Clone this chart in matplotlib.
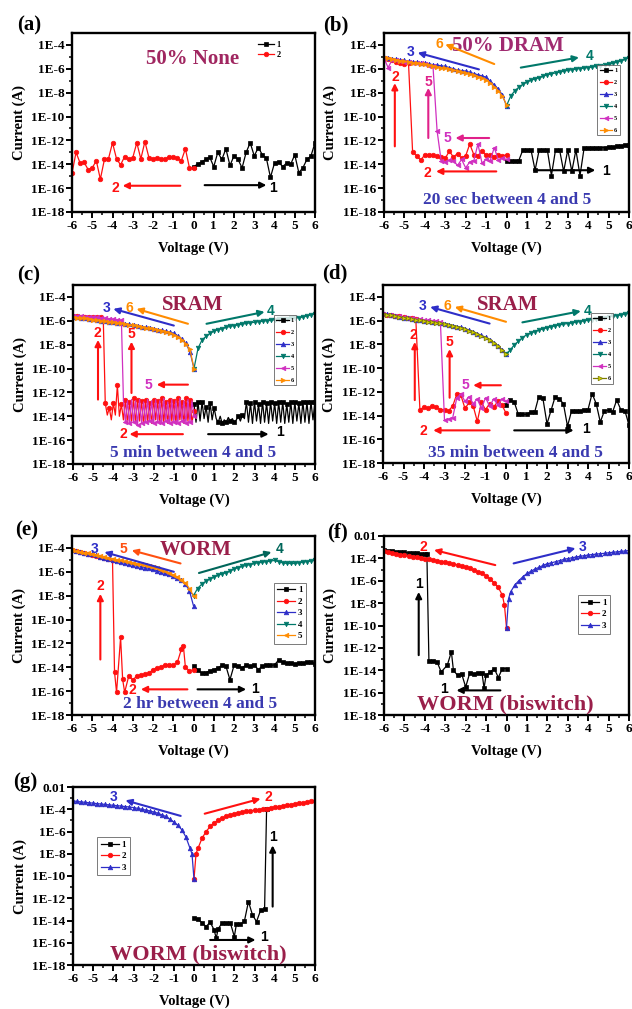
import numpy as np
import matplotlib
matplotlib.use("Agg")
import matplotlib.pyplot as plt
from matplotlib.ticker import FixedLocator, NullFormatter

plt.rcParams['font.family'] = ['Liberation Serif', 'DejaVu Serif']
plt.rcParams['font.weight'] = 'bold'
plt.rcParams['axes.labelweight'] = 'bold'

# colours of the sweeps
C1, C2, C3, C4, C5, C6 = '#000000', '#FF1010', '#2E2EC8', '#00786A', '#D030C0', '#FF8C00'
OLIVE = '#7A7A00'
TITLE = '#9A1F4A'
NOTE_BLUE = '#3A3AB0'
PINK = '#E0208A'

# voltage sweeps (V)
V_pos = np.round(np.linspace(0, 6, 31), 2)
V_neg = np.round(np.linspace(0, -6, 31), 2)
V_pos_f = np.round(np.linspace(0, 6, 61), 2)
V_neg_f = np.round(np.linspace(0, -6, 61), 2)

# ---- (a) 50% None, log10(I)
a1 = [-14.2, -14.0, -13.8, -13.6, -13.4, -14.2, -13.0, -13.6, -12.7, -14.1, -13.3, -13.6, -14.3, -13.0, -12.2, -13.3,
      -12.6, -13.2, -13.5, -15.1, -13.9, -13.8, -14.2, -13.9, -14.0, -13.2, -14.7, -14.3, -13.6, -13.3, -12.2]
a2 = [-14.3, -14.3, -12.7, -13.7, -13.45, -13.4, -13.4, -13.55, -13.55, -13.45, -13.55, -13.45, -12.1, -13.55, -12.2,
      -13.45, -13.6, -13.35, -14.05, -13.55, -12.2, -13.55, -13.6, -15.25, -13.7, -14.3, -14.45, -13.85, -13.9, -13.0,
      -14.75]

# ---- (b) 50% DRAM
b1 = [-13.7, -13.7, -13.7, -13.7, -12.8, -12.8, -12.8, -14.5, -12.8, -12.8, -12.8, -14.95, -12.8, -12.8, -14.6, -12.8,
      -14.6, -12.8, -14.95, -12.65, -12.65, -12.65, -12.65, -12.6, -12.6, -12.55, -12.55, -12.5, -12.45, -12.4, -12.4]
b2 = [-13.2, -13.3, -13.2, -13.35, -13.2, -13.25, -12.9, -13.3, -13.2, -12.3, -13.3, -13.5, -13.1, -13.4, -12.9, -13.5,
      -13.4, -13.3, -13.25, -13.2, -13.2, -13.65, -13.3, -12.95, -5.5, -5.6, -5.5, -5.4, -5.3, -5.2, -5.15]
b3 = [-9.1, -8.2, -7.7, -7.35, -7.05, -6.7, -6.6, -6.5, -6.4, -6.3, -6.2, -6.15, -6.1, -6.0, -5.9, -5.8, -5.75, -5.7,
      -5.65, -5.6, -5.5, -5.48, -5.45, -5.42, -5.38, -5.3, -5.25, -5.2, -5.15, -5.1, -5.05]
b4 = [-9.1, -8.3, -7.85, -7.55, -7.3, -7.1, -6.95, -6.85, -6.75, -6.62, -6.5, -6.42, -6.35, -6.28, -6.2, -6.13, -6.08,
      -6.03, -5.98, -5.94, -5.9, -5.85, -5.8, -5.75, -5.7, -5.63, -5.55, -5.45, -5.35, -5.2, -5.07]
b5 = [-13.6, -13.5, -13.65, -12.6, -13.7, -13.6, -13.9, -12.3, -13.7, -13.8, -14.3, -13.6, -14.1, -13.7, -13.65, -13.8,
      -13.7, -11.2, -5.8, -5.75, -5.6, -5.55, -5.5, -5.5, -5.45, -5.4, -5.35, -5.3, -5.25, -5.9, -5.1]
b6 = [-9.0, -8.3, -7.85, -7.5, -7.2, -6.9, -6.75, -6.65, -6.55, -6.45, -6.35, -6.3, -6.2, -6.1, -6.0, -5.95, -5.9,
      -5.85, -5.78, -5.7, -5.62, -5.58, -5.52, -5.48, -5.42, -5.38, -5.32, -5.25, -5.2, -5.12, -5.05]

# ---- (c) SRAM, 5 min
c1 = [-13.0, -14.5, -12.8, -14.4, -12.8, -14.2, -13.2, -14.5, -12.9, -14.3,
      -13.3, -14.2, -14.5, -14.0, -14.6, -14.3, -14.5, -14.1, -14.4, -14.2,
      -14.5, -14.3, -14.0, -14.4, -13.9, -14.2, -12.8, -14.5, -12.9, -14.6,
      -12.8, -14.4, -13.0, -14.6, -12.8, -14.5, -12.9, -14.6, -12.8, -14.4,
      -12.9, -14.6, -12.8, -14.5, -12.8, -14.6, -13.0, -14.5, -12.8, -14.6,
      -12.8, -14.4, -12.9, -14.6, -12.8, -14.5, -12.8, -14.6, -12.8, -14.3, -12.8]
c2 = [-13.6, -14.5, -12.6, -14.4, -12.5, -14.6, -12.8, -14.3, -12.5, -14.6,
      -12.7, -14.4, -12.6, -14.6, -12.8, -14.5, -12.5, -14.6, -12.7, -14.3,
      -12.6, -14.6, -12.9, -14.5, -12.6, -14.7, -12.7, -14.4, -12.6, -14.6,
      -12.5, -14.5, -12.8, -14.6, -12.6, -14.3, -13.0, -14.0, -11.4, -13.9,
      -12.9, -14.3, -13.3, -13.9, -12.9, -5.75, -5.72, -5.72, -5.7, -5.7,
      -5.68, -5.68, -5.67, -5.66, -5.65, -5.65, -5.64, -5.63, -5.62, -5.61, -5.6]
c3 = [-10.0, -8.6, -7.9, -7.5, -7.25, -7.05, -6.95, -6.88, -6.8, -6.74, -6.68, -6.62, -6.56, -6.5, -6.42, -6.35, -6.3,
      -6.25, -6.2, -6.16, -6.12, -6.08, -6.03, -5.98, -5.92, -5.86, -5.82, -5.78, -5.75, -5.72, -5.7]
c4 = [-10.0, -8.3, -7.6, -7.3, -7.05, -6.85, -6.75, -6.65, -6.55, -6.47, -6.4, -6.34, -6.28, -6.22, -6.17, -6.12, -6.08,
      -6.04, -6.0, -5.96, -5.92, -5.89, -5.86, -5.83, -5.8, -5.78, -5.74, -5.68, -5.6, -5.5, -5.42]
c5 = [-14.0, -12.7, -14.5, -12.6, -14.6, -12.7, -14.4, -12.5, -14.6, -12.7,
      -14.5, -12.6, -14.6, -12.8, -14.4, -12.5, -14.6, -12.7, -14.5, -12.6,
      -14.6, -12.7, -14.4, -12.6, -14.5, -12.8, -14.6, -12.6, -14.7, -12.7,
      -14.5, -12.6, -14.6, -12.7, -14.5, -12.6, -5.95, -5.92, -5.9, -5.88,
      -5.86, -5.84, -5.82, -5.8, -5.78, -5.76, -5.74, -5.72, -5.7, -5.69,
      -5.68, -5.67, -5.66, -5.65, -5.64, -5.63, -5.62, -5.61, -5.6, -5.6, -5.6]
c6 = [-10.0, -8.4, -7.95, -7.6, -7.35, -7.15, -7.0, -6.9, -6.82, -6.75, -6.7, -6.64, -6.58, -6.52, -6.45, -6.38, -6.32,
      -6.27, -6.22, -6.18, -6.14, -6.1, -6.05, -6.0, -5.95, -5.9, -5.85, -5.8, -5.76, -5.73, -5.7]

# ---- (d) SRAM, 35 min
d1 = [-13.1, -12.7, -12.85, -13.9, -13.9, -13.9, -13.7, -13.7, -12.4, -12.55, -14.7, -13.55, -12.4, -12.6, -13.0,
      -14.9, -13.6, -13.6, -13.6, -13.55, -13.5, -12.15, -13.0, -14.55, -13.6, -13.55, -13.7, -12.7, -13.5, -13.6, -14.8]
d2 = [-13.8, -13.1, -12.8, -13.3, -13.0, -13.5, -12.9, -14.5, -13.2, -12.9, -13.4, -12.3, -12.2, -13.2, -13.6, -13.5,
      -13.5, -13.3, -13.2, -13.4, -13.3, -13.5, -5.85, -5.8, -5.75, -5.7, -5.65, -5.6, -5.55, -5.5, -5.45]
d3 = [-8.8, -8.45, -8.1, -7.85, -7.6, -7.4, -7.25, -7.1, -6.95, -6.8, -6.67, -6.58, -6.5, -6.42, -6.33, -6.25, -6.2,
      -6.15, -6.1, -6.06, -6.02, -5.97, -5.92, -5.86, -5.8, -5.74, -5.68, -5.62, -5.55, -5.48, -5.4]
d4 = [-8.8, -8.5, -8.05, -7.75, -7.45, -7.2, -7.05, -6.92, -6.8, -6.7, -6.6, -6.52, -6.44, -6.37, -6.3, -6.25, -6.2,
      -6.14, -6.08, -6.02, -5.97, -5.92, -5.86, -5.8, -5.75, -5.69, -5.64, -5.58, -5.52, -5.46, -5.4]
d5 = [-12.8, -12.6, -13.1, -12.6, -13.2, -12.5, -13.4, -12.6, -13.0, -12.4, -12.8, -12.2, -12.5, -14.2, -14.3, -14.4,
      -6.1, -6.05, -6.0, -5.98, -5.95, -5.9, -5.85, -5.8, -5.75, -5.7, -5.65, -5.6, -5.55, -5.5, -5.45]
d6 = [-8.85, -8.5, -8.15, -7.9, -7.65, -7.45, -7.3, -7.15, -7.0, -6.85, -6.72, -6.62, -6.54, -6.46, -6.38, -6.3, -6.24,
      -6.18, -6.13, -6.08, -6.04, -5.99, -5.94, -5.88, -5.82, -5.76, -5.7, -5.64, -5.57, -5.5, -5.42]

# ---- (e) WORM, 2 hr
e1 = [-13.9, -14.2, -14.5, -14.45, -14.3, -14.2, -14.05, -13.85, -13.9, -15.05, -13.85, -13.9, -14.05, -13.8, -13.9,
      -13.8, -14.2, -13.9, -13.8, -13.85, -13.8, -13.4, -13.6, -13.65, -13.65, -13.7, -13.65, -13.65, -13.55, -13.6, -13.7]
V_e2 = [0, -0.2, -0.4, -0.5, -0.6, -0.8, -1.0, -1.2, -1.4, -1.6, -1.8, -2.0, -2.2, -2.4, -2.6, -2.8, -3.0, -3.2, -3.4,
        -3.5, -3.6, -3.8, -3.9, -4.0, -4.2, -4.4, -4.6, -4.8, -5.0, -5.2, -5.4, -5.6, -5.8, -6.0]
e2 = [-14.2, -14.3, -14.0, -12.2, -12.5, -13.6, -13.8, -13.8, -13.8, -14.0, -14.05, -14.2, -14.5, -14.6, -14.65, -14.75,
      -15.05, -14.75, -16.1, -15.0, -11.5, -16.1, -14.4, -5.0, -4.95, -4.85, -4.75, -4.7, -4.6, -4.52, -4.45, -4.35,
      -4.28, -4.2]
e3 = [-8.85, -7.6, -7.0, -6.7, -6.5, -6.35, -6.22, -6.1, -6.0, -5.9, -5.8, -5.72, -5.64, -5.56, -5.48, -5.4, -5.32,
      -5.24, -5.16, -5.08, -5.0, -4.9, -4.82, -4.72, -4.63, -4.55, -4.48, -4.42, -4.35, -4.28, -4.2]
e4 = [-8.0, -7.4, -7.05, -6.8, -6.6, -6.45, -6.3, -6.18, -6.08, -5.95, -5.75, -5.65, -5.55, -5.47, -5.4, -5.3, -5.25,
      -5.2, -5.15, -5.1, -5.05, -5.15, -5.25, -5.3, -5.3, -5.3, -5.25, -5.2, -5.15, -5.1, -5.05]
e5 = [-8.0, -7.4, -6.95, -6.65, -6.42, -6.25, -6.1, -5.97, -5.85, -5.72, -5.6, -5.53, -5.46, -5.38, -5.32, -5.25, -5.18,
      -5.12, -5.05, -4.98, -4.9, -4.82, -4.74, -4.67, -4.6, -4.5, -4.45, -4.4, -4.33, -4.27, -4.2]

# ---- (f) WORM biswitch, negative set
V_f1 = [0, -0.2, -0.4, -0.6, -0.8, -1.0, -1.1, -1.2, -1.4, -1.6, -1.8, -2.0, -2.2, -2.4, -2.6, -2.7, -2.9, -3.2, -3.4,
        -3.6, -3.8, -3.9, -4.0, -4.2, -4.4, -4.6, -4.8, -5.0, -5.2, -5.4, -5.6, -5.8, -6.0]
f1 = [-13.85, -13.85, -14.65, -13.85, -14.15, -14.45, -15.6, -14.25, -14.25, -14.3, -14.25, -15.5, -14.3, -14.45, -14.0,
      -12.35, -13.55, -14.15, -13.25, -13.15, -13.15, -3.6, -3.6, -3.58, -3.55, -3.52, -3.5, -3.47, -3.44, -3.4, -3.36,
      -3.3, -3.25]
V_f2 = [0, -0.1, -0.2, -0.4, -0.6, -0.8, -1.0, -1.2, -1.4, -1.6, -1.8, -2.0, -2.2, -2.4, -2.6, -2.8, -3.0, -3.2, -3.4,
        -3.6, -3.8, -4.0, -4.2, -4.4, -4.6, -4.8, -5.0, -5.2, -5.4, -5.6, -5.8, -6.0]
f2 = [-10.2, -8.2, -7.3, -6.6, -6.2, -5.85, -5.55, -5.35, -5.2, -5.05, -4.9, -4.78, -4.68, -4.58, -4.5, -4.42, -4.35,
      -4.28, -4.22, -4.16, -4.1, -4.04, -3.98, -3.92, -3.86, -3.8, -3.74, -3.66, -3.58, -3.5, -3.42, -3.35]
V_f3 = [0, 0.1, 0.2, 0.4, 0.6, 0.8, 1.0, 1.2, 1.4, 1.6, 1.8, 2.0, 2.2, 2.4, 2.6, 2.8, 3.0, 3.2, 3.4, 3.6, 3.8, 4.0,
        4.2, 4.4, 4.6, 4.8, 5.0, 5.2, 5.4, 5.6, 5.8, 6.0]
f3 = [-10.2, -7.6, -7.0, -6.4, -6.0, -5.65, -5.35, -5.15, -4.95, -4.8, -4.62, -4.48, -4.4, -4.3, -4.2, -4.1, -4.02,
      -3.95, -3.88, -3.82, -3.76, -3.7, -3.66, -3.62, -3.58, -3.55, -3.5, -3.46, -3.42, -3.38, -3.34, -3.3]

# ---- (g) WORM biswitch, positive set
V_g1 = [0, 0.2, 0.4, 0.6, 0.8, 1.0, 1.1, 1.2, 1.4, 1.6, 1.8, 2.0, 2.1, 2.3, 2.5, 2.7, 2.9, 3.1, 3.3, 3.5, 3.6]
g1 = [-13.8, -13.9, -14.2, -14.55, -14.15, -14.85, -15.6, -14.75, -14.2, -14.2, -14.2, -15.45, -14.35, -14.35, -14.05,
      -12.3, -13.5, -14.1, -13.1, -13.0, -3.95]
g2 = [-10.3, -8.0, -7.5, -6.6, -6.0, -5.55, -5.2, -5.0, -4.8, -4.65, -4.5, -4.4, -4.33, -4.26, -4.2, -4.14, -4.08,
      -4.03, -3.98, -3.95, -3.88, -3.82, -3.76, -3.7, -3.64, -3.58, -3.52, -3.46, -3.41, -3.36, -3.3, -3.25]
V_g3 = [0, -0.1, -0.2, -0.4, -0.6, -0.8, -1.0, -1.2, -1.4, -1.6, -1.8, -2.0, -2.2, -2.4, -2.6, -2.8, -3.0, -3.2, -3.4,
        -3.6, -3.8, -4.0, -4.2, -4.4, -4.6, -4.8, -5.0, -5.2, -5.4, -5.6, -5.8, -6.0]
g3 = [-10.3, -8.0, -7.5, -6.5, -5.85, -5.45, -5.15, -4.9, -4.65, -4.5, -4.35, -4.25, -4.15, -4.07, -4.0, -3.92, -3.85,
      -3.8, -3.76, -3.72, -3.68, -3.65, -3.61, -3.57, -3.53, -3.5, -3.45, -3.42, -3.38, -3.34, -3.3, -3.25]

SANS = ['Liberation Sans', 'DejaVu Sans']


def setup(ax, top_exp):
    ax.set_yscale('log')
    ax.set_xlim(-6, 6)
    ax.set_ylim(1e-18, 10.0 ** top_exp)
    ax.set_xticks(range(-6, 7))
    ax.set_xticklabels([str(v) for v in range(-6, 7)])
    ax.xaxis.set_minor_locator(FixedLocator(np.arange(-5.5, 6, 1)))
    majors = list(range(-18, top_exp + 1, 2)) if top_exp % 2 == 0 else list(range(-18, top_exp, 2))
    ax.yaxis.set_major_locator(FixedLocator([10.0 ** e for e in majors]))
    ax.set_yticklabels(['0.01' if e == -2 else f'1E{e}' for e in majors])
    ax.yaxis.set_minor_locator(FixedLocator([10.0 ** e for e in range(-17, top_exp, 2)]))
    ax.yaxis.set_minor_formatter(NullFormatter())
    ax.tick_params(which='major', direction='out', length=4, width=1.4, labelsize=9.5, pad=1.5)
    ax.tick_params(which='minor', direction='out', length=2.2, width=1.1)
    for sp in ax.spines.values():
        sp.set_linewidth(1.7)
    ax.set_xlabel('Voltage (V)', fontsize=10.5)
    ax.set_ylabel('Current (A)', fontsize=10.5)
    ax.xaxis.set_label_coords(0.5, -0.165)
    ax.yaxis.set_label_coords(-0.19, 0.5)


def curve(ax, v, logi, color, marker, label, ms=3.3, every=1, mfc=None):
    ax.plot(v, 10.0 ** np.array(logi), color=color, marker=marker, ms=ms, lw=0.9, label=label,
            markevery=every, mfc=mfc if mfc else color, mec=color, mew=0.5)


def arrow(ax, x0, e0, x1, e1, color, lw=1.5):
    ax.annotate('', xy=(x1, 10.0 ** e1), xytext=(x0, 10.0 ** e0),
                arrowprops=dict(arrowstyle='-|>', color=color, lw=lw, mutation_scale=9,
                                shrinkA=0, shrinkB=0))


def num(ax, x, e, s, color, size=10):
    ax.text(x, 10.0 ** e, s, color=color, fontsize=size, fontweight='bold', family=SANS,
            ha='center', va='center')


def legend(ax, anchor, size, spacing, frame=True):
    lg = ax.legend(loc='upper left', bbox_to_anchor=anchor, fontsize=size, frameon=frame,
                   handlelength=2.0, handletextpad=0.3, labelspacing=spacing, borderpad=0.4,
                   fancybox=False, borderaxespad=0)
    if frame:
        lg.get_frame().set_edgecolor('0.35')
        lg.get_frame().set_linewidth(0.7)


fig = plt.figure(figsize=(6.32, 10.09), dpi=100)
W, H = 632.0, 1009.0


def make_axes(l, t, r, b):
    return fig.add_axes([l / W, 1 - b / H, (r - l) / W, (b - t) / H])


ax_a = make_axes(72, 33, 315, 212)
ax_b = make_axes(384, 33, 629, 212)
ax_c = make_axes(73, 285, 315, 464)
ax_d = make_axes(383, 285, 629, 463)
ax_e = make_axes(72, 536, 315, 715)
ax_f = make_axes(384, 536, 629, 715)
ax_g = make_axes(73, 787, 315, 965)

for lab, x, y in [('(a)', 17, 25), ('(b)', 323, 25), ('(c)', 17, 275), ('(d)', 322, 273),
                  ('(e)', 15, 530), ('(f)', 327, 532), ('(g)', 13, 782)]:
    fig.text(x / W, 1 - y / H, lab, fontsize=15, fontweight='bold', va='center', ha='left')

# ---------------- (a)
ax = ax_a
setup(ax, -3)
curve(ax, V_pos, a1, C1, 's', '1')
curve(ax, V_neg, a2, C2, 'o', '2')
legend(ax, (0.75, 0.975), 6, 0.3, frame=False)
ax.text(-0.05, 10 ** -5.15, '50% None', color='#A02660', fontsize=15, fontweight='bold', ha='center', va='center')
arrow(ax, -0.65, -15.8, -3.5, -15.8, C2)
num(ax, -3.85, -15.95, '2', C2)
arrow(ax, 0.55, -15.75, 3.6, -15.75, C1)
num(ax, 3.95, -15.95, '1', C1)

# ---------------- (b)
ax = ax_b
setup(ax, -3)
curve(ax, V_pos, b1, C1, 's', '1')
curve(ax, V_neg, b2, C2, 'o', '2')
curve(ax, V_neg, b3, C3, '^', '3')
curve(ax, V_pos, b4, C4, 'v', '4')
curve(ax, V_neg, b5, C5, '<', '5')
curve(ax, V_neg, b6, C6, '>', '6')
legend(ax, (0.87, 0.82), 4.5, 1.05)
ax.text(0.05, 10 ** -4.1, '50% DRAM', color='#A02A70', fontsize=15, fontweight='bold', ha='center', va='center')
ax.text(0.05, 10 ** -17.0, '20 sec between 4 and 5', color=NOTE_BLUE, fontsize=12.5, fontweight='bold',
        ha='center', va='center')
arrow(ax, -1.35, -6.05, -4.35, -4.65, C3)
num(ax, -4.7, -4.6, '3', C3)
arrow(ax, -0.6, -5.6, -3.0, -3.95, C6)
num(ax, -3.3, -3.9, '6', C6)
arrow(ax, 0.7, -5.9, 3.55, -5.05, C4)
num(ax, 4.05, -4.95, '4', C4)
arrow(ax, -5.47, -12.5, -5.47, -7.2, C2)
num(ax, -5.47, -6.7, '2', C2)
arrow(ax, -3.83, -11.8, -3.83, -7.6, PINK)
num(ax, -3.83, -7.1, '5', PINK)
arrow(ax, -0.85, -11.8, -2.5, -11.8, PINK)
num(ax, -2.9, -11.8, '5', C5)
arrow(ax, -0.5, -14.6, -3.45, -14.6, C2)
num(ax, -3.9, -14.75, '2', C2)
arrow(ax, 1.35, -14.5, 4.35, -14.5, C1)
num(ax, 4.85, -14.55, '1', C1)

# ---------------- (c)
ax = ax_c
setup(ax, -3)
curve(ax, V_pos_f, c1, C1, 's', '1', every=2)
curve(ax, V_neg_f, c2, C2, 'o', '2', every=2)
curve(ax, V_neg, c3, C3, '^', '3')
curve(ax, V_pos, c4, C4, 'v', '4')
curve(ax, V_neg_f, c5, C5, '<', '5', every=2)
curve(ax, V_neg, c6, C6, '>', '6')
legend(ax, (0.83, 0.83), 4.5, 1.05)
ax.text(-0.05, 10 ** -4.7, 'SRAM', color=TITLE, fontsize=15, fontweight='bold', ha='center', va='center')
ax.text(-0.05, 10 ** -17.1, '5 min between 4 and 5', color=NOTE_BLUE, fontsize=12.5, fontweight='bold',
        ha='center', va='center')
arrow(ax, -1.0, -6.4, -4.0, -5.0, C3)
num(ax, -4.35, -4.95, '3', C3)
arrow(ax, -0.3, -6.25, -2.85, -5.0, C6)
num(ax, -3.2, -4.95, '6', C6)
arrow(ax, 0.62, -6.25, 3.5, -5.25, C4)
num(ax, 3.8, -5.2, '4', C4)
arrow(ax, -4.76, -12.6, -4.76, -7.6, C2)
num(ax, -4.8, -7.0, '2', C2)
arrow(ax, -3.1, -12.05, -3.1, -7.75, C2)
num(ax, -3.1, -7.1, '5', C2)
arrow(ax, -0.3, -11.35, -1.85, -11.35, C2)
num(ax, -2.25, -11.35, '5', C5)
arrow(ax, -0.55, -15.5, -3.2, -15.5, C2)
num(ax, -3.5, -15.5, '2', C2)
arrow(ax, 0.7, -15.5, 3.7, -15.5, C1)
num(ax, 4.25, -15.35, '1', C1)

# ---------------- (d)
ax = ax_d
setup(ax, -3)
curve(ax, V_pos, d1, C1, 's', '1')
curve(ax, V_neg, d2, C2, 'o', '2')
curve(ax, V_neg, d3, C3, '^', '3')
curve(ax, V_pos, d4, C4, 'v', '4')
curve(ax, V_neg, d5, C5, '<', '5')
curve(ax, V_neg, d6, OLIVE, '>', '6', mfc='#D0D000')
legend(ax, (0.845, 0.84), 4.5, 1.05)
ax.text(0.1, 10 ** -4.7, 'SRAM', color=TITLE, fontsize=15, fontweight='bold', ha='center', va='center')
ax.text(0.45, 10 ** -17.15, '35 min between 4 and 5', color=NOTE_BLUE, fontsize=12.5, fontweight='bold',
        ha='center', va='center')
arrow(ax, -0.8, -6.25, -3.7, -4.85, C3)
num(ax, -4.05, -4.8, '3', C3)
arrow(ax, 0.0, -6.1, -2.5, -4.85, C6)
num(ax, -2.85, -4.8, '6', C6)
arrow(ax, 0.8, -6.15, 3.65, -5.2, C4)
num(ax, 4.0, -5.15, '4', C4)
arrow(ax, -4.45, -12.7, -4.45, -7.8, C2)
num(ax, -4.5, -7.2, '2', C2)
arrow(ax, -2.75, -12.5, -2.75, -8.4, C2)
num(ax, -2.75, -7.8, '5', C2)
arrow(ax, -0.25, -11.45, -1.6, -11.45, C2)
num(ax, -2.0, -11.45, '5', C5)
arrow(ax, -0.8, -15.25, -3.55, -15.25, C2)
num(ax, -4.05, -15.3, '2', C2)
arrow(ax, 0.4, -15.25, 3.3, -15.25, C1)
num(ax, 3.9, -15.15, '1', C1)

# ---------------- (e)
ax = ax_e
setup(ax, -3)
curve(ax, V_pos, e1, C1, 's', '1')
curve(ax, V_e2, e2, C2, 'o', '2')
curve(ax, V_neg, e3, C3, '^', '3')
curve(ax, V_pos, e4, C4, 'v', '4')
curve(ax, V_neg, e5, C6, '<', '5')
legend(ax, (0.83, 0.74), 6.5, 0.35)
ax.text(0.1, 10 ** -4.2, 'WORM', color=TITLE, fontsize=15, fontweight='bold', ha='center', va='center')
ax.text(0.3, 10 ** -17.1, '2 hr between 4 and 5', color=NOTE_BLUE, fontsize=12.5, fontweight='bold',
        ha='center', va='center')
arrow(ax, -0.97, -6.0, -4.4, -4.35, C3)
num(ax, -4.9, -4.05, '3', C3)
arrow(ax, -0.64, -5.3, -3.05, -4.2, '#FF5010')
num(ax, -3.45, -4.1, '5', '#FF5010')
arrow(ax, 0.27, -6.1, 3.85, -4.35, '#00665A')
num(ax, 4.25, -4.1, '4', '#00665A')
arrow(ax, -4.6, -13.35, -4.6, -7.85, C2)
num(ax, -4.6, -7.2, '2', C2)
arrow(ax, -0.3, -15.85, -2.6, -15.85, C2)
num(ax, -3.0, -15.9, '2', C2)
arrow(ax, 0.2, -15.85, 2.6, -15.85, C1)
num(ax, 3.05, -15.85, '1', C1)

# ---------------- (f)
ax = ax_f
setup(ax, -2)
curve(ax, V_f1, f1, C1, 's', '1')
curve(ax, V_f2, f2, C2, 'o', '2')
curve(ax, V_f3, f3, C3, '^', '3')
legend(ax, (0.79, 0.67), 6.5, 0.35)
ax.text(-0.05, 10 ** -17.1, 'WORM (biswitch)', color=TITLE, fontsize=16, fontweight='bold', ha='center', va='center')
arrow(ax, -0.55, -4.6, -3.55, -3.25, C2)
num(ax, -4.05, -2.95, '2', C2)
arrow(ax, 0.35, -4.45, 3.38, -3.1, C3)
num(ax, 3.75, -2.95, '3', C3)
arrow(ax, -4.3, -12.65, -4.3, -7.0, C1)
num(ax, -4.3, -6.3, '1', C1)
arrow(ax, -0.3, -15.8, -2.45, -15.8, C1)
num(ax, -3.05, -15.65, '1', C1)

# ---------------- (g)
ax = ax_g
setup(ax, -2)
curve(ax, V_g1, g1, C1, 's', '1')
curve(ax, V_f3, g2, C2, 'o', '2')
curve(ax, V_g3, g3, C3, '^', '3')
legend(ax, (0.1, 0.72), 6.5, 0.35)
ax.text(0.2, 10 ** -17.05, 'WORM (biswitch)', color=TITLE, fontsize=16, fontweight='bold', ha='center', va='center')
arrow(ax, -0.66, -4.6, -3.4, -3.2, C3)
num(ax, -3.98, -2.9, '3', C3)
arrow(ax, 0.53, -4.4, 3.3, -3.05, C2)
num(ax, 3.7, -2.9, '2', C2)
arrow(ax, 3.9, -12.75, 3.9, -7.25, C1)
num(ax, 3.9, -6.5, '1', C1)
arrow(ax, 0.8, -15.75, 3.05, -15.75, C1)
num(ax, 3.45, -15.45, '1', C1)

fig.savefig('out.png', dpi=100)
